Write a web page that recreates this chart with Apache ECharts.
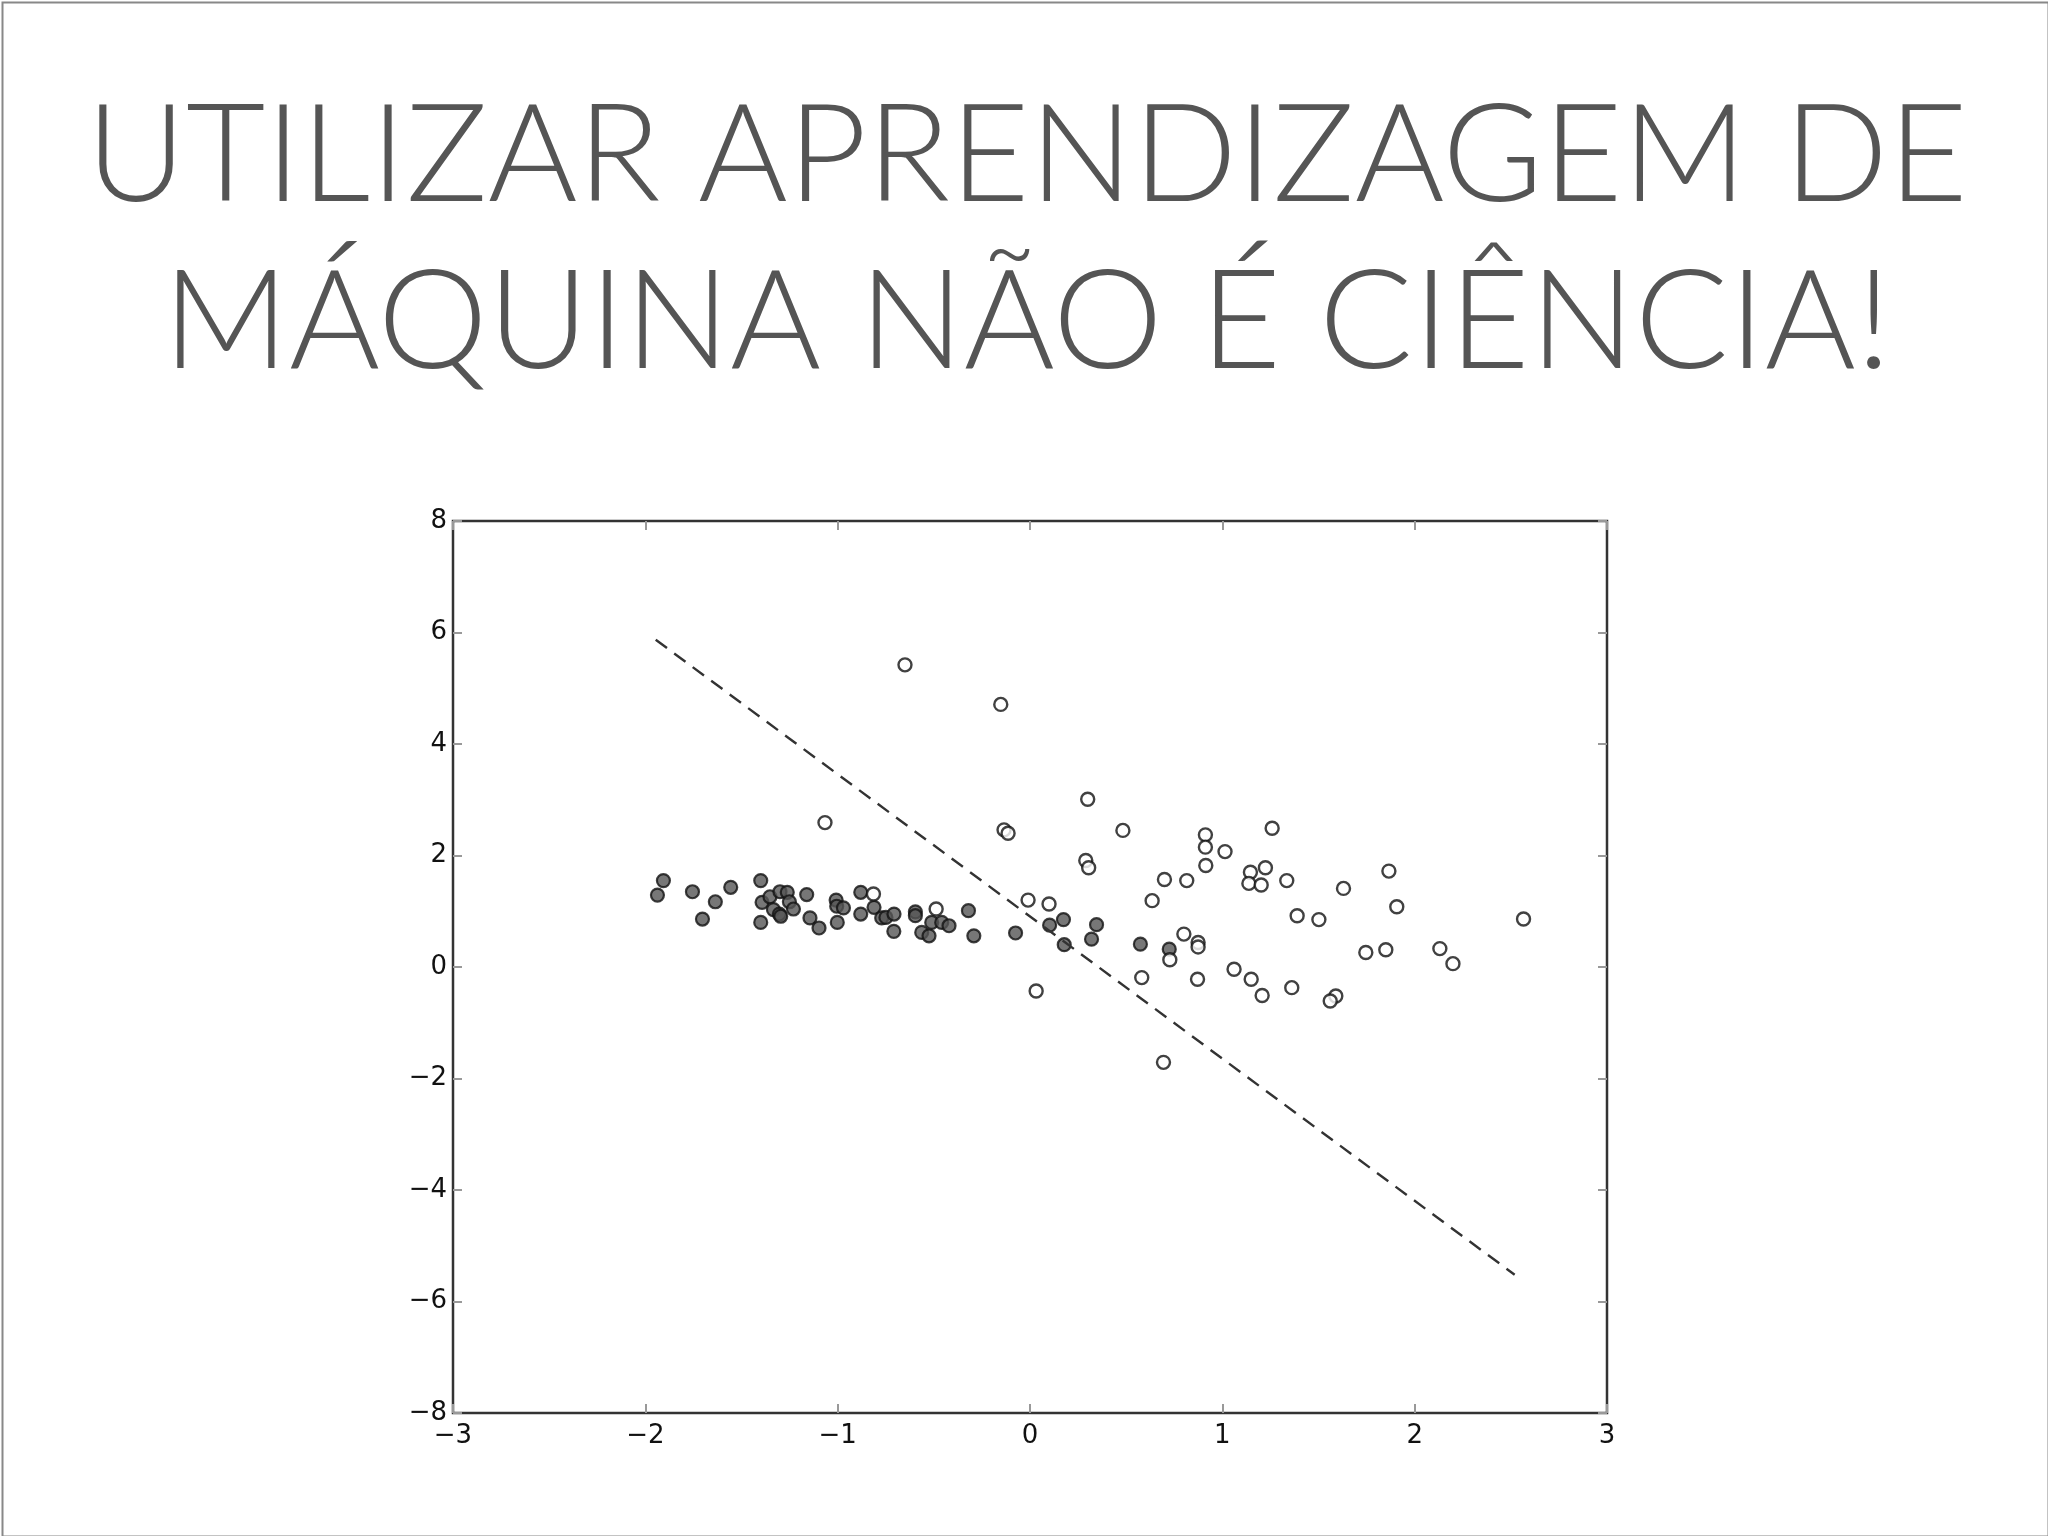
<!DOCTYPE html>
<html>
<head>
<meta charset="utf-8">
<script src="https://cdn.jsdelivr.net/npm/echarts@6/dist/echarts.min.js"></script>
<style>
  html, body { margin: 0; padding: 0; background: #fff; }
  #chart { width: 2048px; height: 1536px; }
</style>
</head>
<body>
<div id="chart"></div>
<script>
// title lines
var titleLines = ['UTILIZAR APRENDIZAGEM DE', 'MÁQUINA NÃO É CIÊNCIA!'];

// filled (dark) points
var classA = [
  [-1.937, 1.29], [-1.906, 1.55], [-1.755, 1.35], [-1.703, 0.86], [-1.636, 1.17], [-1.556, 1.43],
  [-1.40, 1.55], [-1.40, 0.80], [-1.393, 1.16], [-1.352, 1.26], [-1.30, 1.35], [-1.262, 1.34],
  [-1.251, 1.17], [-1.23, 1.04], [-1.334, 1.03], [-1.303, 0.95], [-1.296, 0.91],
  [-1.161, 1.30], [-1.144, 0.88], [-1.097, 0.70],
  [-1.008, 1.20], [-1.005, 1.09], [-0.97, 1.06], [-1.002, 0.80],
  [-0.88, 1.34], [-0.811, 1.07], [-0.88, 0.95], [-0.771, 0.88], [-0.749, 0.89], [-0.707, 0.95], [-0.708, 0.64],
  [-0.596, 0.99], [-0.596, 0.92], [-0.563, 0.62], [-0.525, 0.56], [-0.511, 0.80], [-0.459, 0.80], [-0.421, 0.74],
  [-0.32, 1.01], [-0.292, 0.56],
  [-0.075, 0.61], [0.102, 0.75], [0.174, 0.85], [0.178, 0.40], [0.346, 0.76], [0.32, 0.50],
  [0.574, 0.41], [0.724, 0.32]
];

// open (white) points
var classB = [
  [-1.066, 2.59], [-0.814, 1.31], [-0.488, 1.04], [-0.65, 5.42], [-0.152, 4.71], [0.30, 3.01],
  [-0.135, 2.46], [-0.114, 2.40], [0.483, 2.45], [0.29, 1.91], [0.305, 1.78],
  [0.912, 2.37], [0.912, 2.15], [1.014, 2.07], [1.259, 2.49], [0.914, 1.82],
  [0.699, 1.57], [0.815, 1.55], [0.635, 1.19], [-0.01, 1.20], [0.099, 1.13],
  [1.146, 1.70], [1.224, 1.78], [1.138, 1.50], [1.202, 1.47], [1.335, 1.55],
  [1.63, 1.41], [1.866, 1.72], [1.907, 1.08], [1.389, 0.92], [1.502, 0.85],
  [0.80, 0.59], [0.874, 0.44], [0.874, 0.36], [0.727, 0.13],
  [1.746, 0.26], [1.85, 0.31], [2.131, 0.33], [2.199, 0.06],
  [0.581, -0.19], [0.871, -0.22], [1.061, -0.04], [1.15, -0.22], [1.207, -0.51],
  [1.361, -0.37], [1.59, -0.52], [1.561, -0.61], [0.032, -0.43], [2.566, 0.86], [0.694, -1.71]
];

// decision boundary (dashed)
var boundary = [[-1.946, 5.87], [2.52, -5.52]];

var chart = echarts.init(document.getElementById('chart'));

function fmt(v) {
  return v < 0 ? '\u2212' + Math.abs(v) : String(v);
}

var tickStyle = { show: true, inside: true, length: 9, lineStyle: { color: '#999', width: 2 } };
var hiddenLine = { show: false, onZero: false };
var labelStyle = { fontFamily: 'DejaVu Sans', fontSize: 26, color: '#111', formatter: fmt };

var option = {
  backgroundColor: '#fff',
  animation: false,
  graphic: [
    {
      type: 'rect', left: 0, top: 0, silent: true,
      shape: { x: 1, y: 1, width: 2046, height: 1534 },
      style: { fill: 'none', stroke: '#888', lineWidth: 2 }
    },
    {
      type: 'text', x: 1027, y: 157,
      style: {
        text: titleLines[0], fill: '#555', align: 'center', verticalAlign: 'middle',
        font: '300 137px Lato'
      }
    },
    {
      type: 'text', x: 1027, y: 323,
      style: {
        text: titleLines[1], fill: '#555', align: 'center', verticalAlign: 'middle',
        font: '300 139px Lato'
      }
    }
  ],
  grid: {
    left: 453, right: 441, top: 521, bottom: 123,
    show: true, borderColor: '#333', borderWidth: 2.5, backgroundColor: '#fff'
  },
  xAxis: [
    {
      type: 'value', min: -3, max: 3, interval: 1,
      axisLine: hiddenLine, splitLine: { show: false },
      axisTick: tickStyle,
      axisLabel: Object.assign({ margin: 10 }, labelStyle)
    },
    {
      type: 'value', position: 'top', min: -3, max: 3, interval: 1,
      axisLine: hiddenLine, splitLine: { show: false },
      axisTick: tickStyle, axisLabel: { show: false }
    }
  ],
  yAxis: [
    {
      type: 'value', min: -8, max: 8, interval: 2,
      axisLine: hiddenLine, splitLine: { show: false },
      axisTick: tickStyle,
      axisLabel: Object.assign({ margin: 6 }, labelStyle)
    },
    {
      type: 'value', position: 'right', min: -8, max: 8, interval: 2,
      axisLine: hiddenLine, splitLine: { show: false },
      axisTick: tickStyle, axisLabel: { show: false }
    }
  ],
  series: [
    {
      type: 'scatter', data: classA, symbolSize: 13,
      itemStyle: { color: '#555', borderColor: '#111', borderWidth: 2.2 }
    },
    {
      type: 'scatter', data: classB, symbolSize: 13,
      itemStyle: { color: '#fff', borderColor: '#111', borderWidth: 2.4 }
    },
    {
      type: 'line', data: boundary, symbol: 'none', z: 3,
      lineStyle: { color: '#333', width: 2.4, type: [14, 9] }
    }
  ]
};

chart.setOption(option);
</script>
</body>
</html>
